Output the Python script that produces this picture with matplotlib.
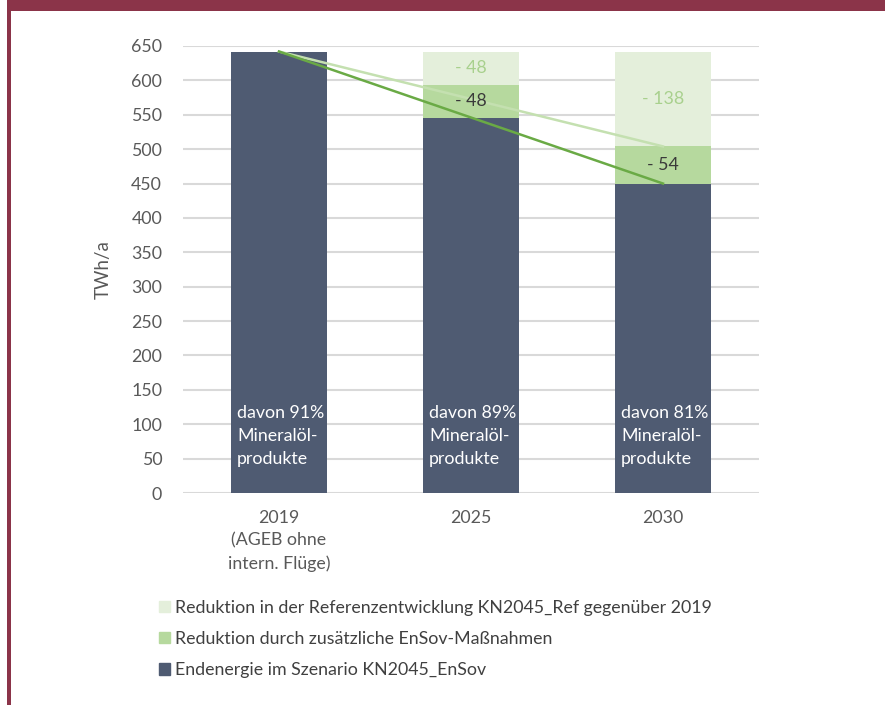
import matplotlib
matplotlib.use("Agg")
import matplotlib.pyplot as plt
from matplotlib.patches import Rectangle

plt.rcParams['font.family'] = ['Lato', 'DejaVu Sans']

categories = ["2019\n(AGEB ohne\nintern. Flüge)", "2025", "2030"]
endenergie = [642, 546, 450]
red_ensov = [0, 48, 54]
red_ref = [0, 48, 138]
inner_labels = ["davon 91%\nMineralöl-\nprodukte", "davon 89%\nMineralöl-\nprodukte", "davon 81%\nMineralöl-\nprodukte"]
legend_labels = ["Reduktion in der Referenzentwicklung KN2045_Ref gegenüber 2019",
                 "Reduktion durch zusätzliche EnSov-Maßnahmen",
                 "Endenergie im Szenario KN2045_EnSov"]
yticks = list(range(0, 651, 50))

c_dark = "#4f5b72"
c_mid = "#b6d99e"
c_light = "#e4efdb"
c_line_dark = "#6aaa45"
c_line_light = "#c4e0b0"
c_border = "#8b3449"

fig = plt.figure(figsize=(8.85, 7.05), dpi=100)
W, H = 885, 705
fig.patches.append(Rectangle((7.3 / W, 1 - 10.7 / H), 1, 10.7 / H, transform=fig.transFigure,
                             facecolor=c_border, edgecolor='none', zorder=0))
fig.patches.append(Rectangle((7.3 / W, 0), 3.4 / W, 1, transform=fig.transFigure,
                             facecolor=c_border, edgecolor='none', zorder=0))

ax = fig.add_axes([183 / W, 1 - 493 / H, (759 - 183) / W, (493 - 46) / H])
x = list(range(len(categories)))
bw = 0.495
ax.bar(x, endenergie, bw, color=c_dark, zorder=2, edgecolor='none')
ax.bar(x, red_ensov, bw, bottom=endenergie, color=c_mid, zorder=2, edgecolor='none')
bottom3 = [a + b for a, b in zip(endenergie, red_ensov)]
ax.bar(x, red_ref, bw, bottom=bottom3, color=c_light, zorder=2, edgecolor='none')

# trend lines
ax.plot([x[0], x[2]], [endenergie[0], bottom3[2]], color=c_line_light, lw=1.8, zorder=3)
ax.plot([x[0], x[2]], [endenergie[0], endenergie[2]], color=c_line_dark, lw=1.8, zorder=4)

fs = 12.8
for i in range(len(x)):
    if red_ensov[i]:
        ax.text(x[i], endenergie[i] + red_ensov[i] / 2, f"- {red_ensov[i]}", ha='center', va='center',
                fontsize=fs, color="#3a3a3a", zorder=5)
    if red_ref[i]:
        ax.text(x[i], bottom3[i] + red_ref[i] / 2, f"- {red_ref[i]}", ha='center', va='center',
                fontsize=fs, color="#a8d08d", zorder=5)
    ax.text(x[i] - bw / 2 + 0.03, 83, inner_labels[i], ha='left', va='center', fontsize=fs,
            color='white', linespacing=1.52, zorder=5)

ax.set_ylim(0, 650)
ax.set_xlim(-0.5, 2.5)
ax.set_yticks(yticks)
ax.set_yticklabels([str(v) for v in yticks], fontsize=fs, color="#595959")
ax.set_xticks(x)
ax.set_xticklabels(categories, fontsize=fs, color="#595959", linespacing=1.5, va='top')
ax.tick_params(length=0, pad=15)
ax.tick_params(axis='x', pad=12)
ax.yaxis.grid(True, color="#d9d9d9", lw=1.5, zorder=0)
ax.set_axisbelow(True)
for s in ax.spines.values():
    s.set_visible(False)
ax.set_ylabel("TWh/a", fontsize=13.5, color="#595959", labelpad=14)

# legend
handles = [Rectangle((0, 0), 1, 1, color=c) for c in (c_light, c_mid, c_dark)]
fig.legend(handles, legend_labels, loc='upper left', bbox_to_anchor=(143 / W, 1 - 584 / H),
           frameon=False, fontsize=fs, handlelength=0.6, handleheight=0.6,
           handletextpad=0.3, labelspacing=0.85, labelcolor="#404040")

fig.savefig("out.png", dpi=100, facecolor='white')
